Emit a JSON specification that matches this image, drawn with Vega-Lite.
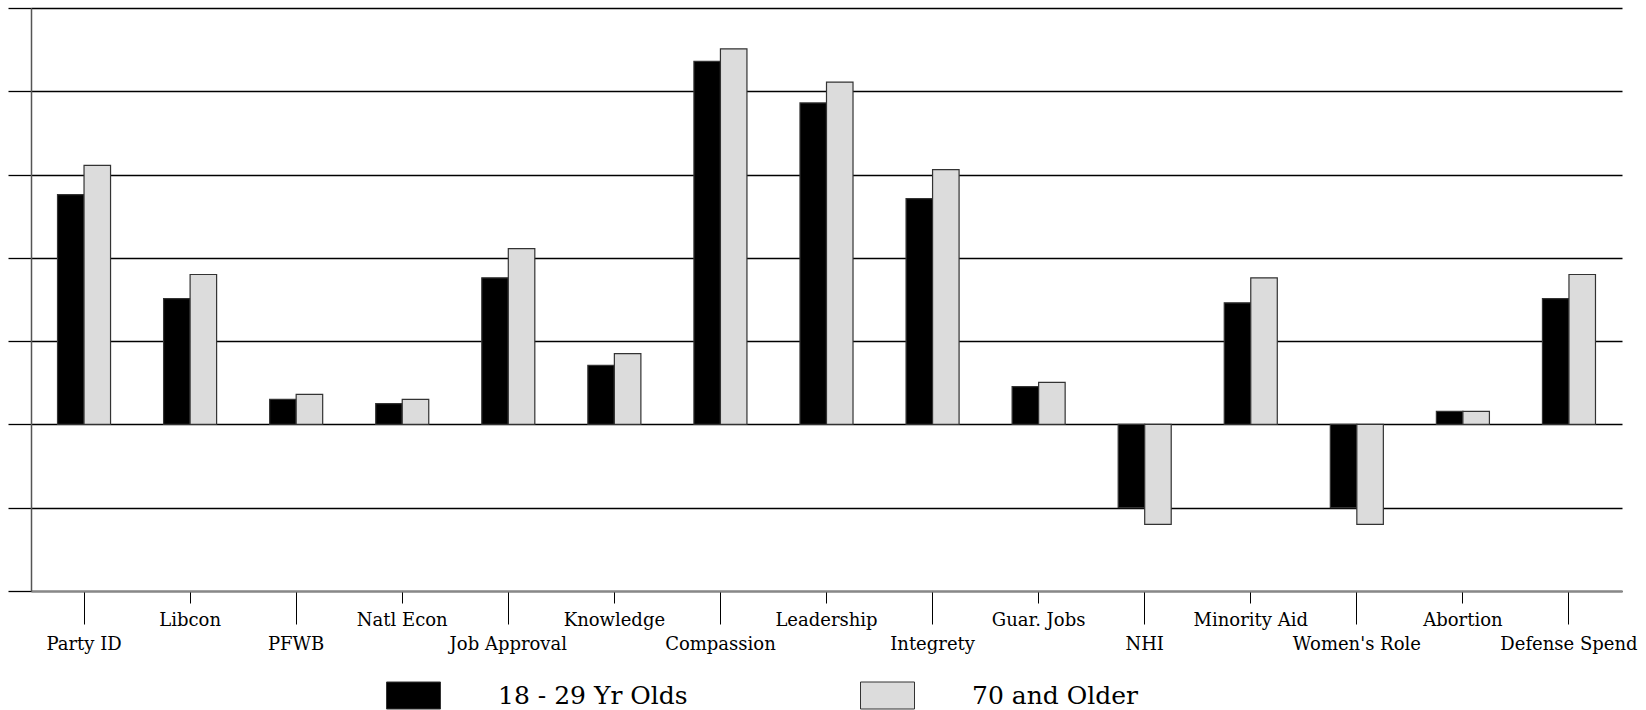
{
  "$schema": "https://vega.github.io/schema/vega-lite/v6.json",
  "autosize": "none",
  "width": 1591,
  "height": 583,
  "padding": {"left": 31, "top": 8, "right": 24, "bottom": 119},
  "background": "#ffffff",
  "config": {"view": {"stroke": null}},
  "data": {
    "values": [
      {"item": "Party ID", "group": "18 - 29 Yr Olds", "value": 2.76},
      {"item": "Party ID", "group": "70 and Older", "value": 3.11},
      {"item": "Libcon", "group": "18 - 29 Yr Olds", "value": 1.51},
      {"item": "Libcon", "group": "70 and Older", "value": 1.80},
      {"item": "PFWB", "group": "18 - 29 Yr Olds", "value": 0.30},
      {"item": "PFWB", "group": "70 and Older", "value": 0.36},
      {"item": "Natl Econ", "group": "18 - 29 Yr Olds", "value": 0.25},
      {"item": "Natl Econ", "group": "70 and Older", "value": 0.30},
      {"item": "Job Approval", "group": "18 - 29 Yr Olds", "value": 1.76},
      {"item": "Job Approval", "group": "70 and Older", "value": 2.11},
      {"item": "Knowledge", "group": "18 - 29 Yr Olds", "value": 0.71},
      {"item": "Knowledge", "group": "70 and Older", "value": 0.85},
      {"item": "Compassion", "group": "18 - 29 Yr Olds", "value": 4.36},
      {"item": "Compassion", "group": "70 and Older", "value": 4.51},
      {"item": "Leadership", "group": "18 - 29 Yr Olds", "value": 3.86},
      {"item": "Leadership", "group": "70 and Older", "value": 4.11},
      {"item": "Integrety", "group": "18 - 29 Yr Olds", "value": 2.71},
      {"item": "Integrety", "group": "70 and Older", "value": 3.06},
      {"item": "Guar. Jobs", "group": "18 - 29 Yr Olds", "value": 0.455},
      {"item": "Guar. Jobs", "group": "70 and Older", "value": 0.505},
      {"item": "NHI", "group": "18 - 29 Yr Olds", "value": -1.0},
      {"item": "NHI", "group": "70 and Older", "value": -1.2},
      {"item": "Minority Aid", "group": "18 - 29 Yr Olds", "value": 1.46},
      {"item": "Minority Aid", "group": "70 and Older", "value": 1.76},
      {"item": "Women's Role", "group": "18 - 29 Yr Olds", "value": -1.0},
      {"item": "Women's Role", "group": "70 and Older", "value": -1.2},
      {"item": "Abortion", "group": "18 - 29 Yr Olds", "value": 0.157},
      {"item": "Abortion", "group": "70 and Older", "value": 0.157},
      {"item": "Defense Spend", "group": "18 - 29 Yr Olds", "value": 1.51},
      {"item": "Defense Spend", "group": "70 and Older", "value": 1.80}
    ]
  },
  "mark": {"type": "bar", "stroke": "#333333", "strokeWidth": 1.2},
  "encoding": {
    "x": {
      "field": "item",
      "type": "nominal",
      "sort": null,
      "scale": {"paddingInner": 0.5, "paddingOuter": 0.25},
      "axis": {
        "title": null,
        "labelAngle": 0,
        "labelFont": "DejaVu Serif",
        "labelFontSize": 18,
        "labelColor": "#000000",
        "labelBaseline": "top",
        "labelOverlap": false,
        "labelLimit": 0,
        "labelPadding": {
          "condition": {"test": "indexof(['Party ID','PFWB','Job Approval','Compassion','Integrety','NHI',\"Women's Role\",'Defense Spend'], datum.value) >= 0", "value": 11},
          "value": 8
        },
        "tickSize": {
          "condition": {"test": "indexof(['Party ID','PFWB','Job Approval','Compassion','Integrety','NHI',\"Women's Role\",'Defense Spend'], datum.value) >= 0", "value": 33},
          "value": 12
        },
        "tickColor": "#000000",
        "tickWidth": 1,
        "domainColor": "#888888",
        "domainWidth": 2
      }
    },
    "xOffset": {
      "field": "group",
      "type": "nominal",
      "scale": {"domain": ["18 - 29 Yr Olds", "70 and Older"]}
    },
    "y": {
      "field": "value",
      "type": "quantitative",
      "scale": {"domain": [-2, 5], "nice": false, "zero": true},
      "axis": {
        "title": null,
        "labels": false,
        "values": [-2, -1, 0, 1, 2, 3, 4, 5],
        "tickSize": 23,
        "tickColor": "#000000",
        "tickWidth": 1.3,
        "grid": true,
        "gridColor": "#000000",
        "gridWidth": 1.3,
        "gridOpacity": 1,
        "domainColor": "#555555",
        "domainWidth": 1.5
      }
    },
    "color": {
      "field": "group",
      "type": "nominal",
      "scale": {"domain": ["18 - 29 Yr Olds", "70 and Older"], "range": ["#000000", "#dcdcdc"]},
      "legend": {
        "orient": "none",
        "legendX": 355,
        "legendY": 660,
        "direction": "horizontal",
        "title": null,
        "symbolType": "M-1,-0.5L1,-0.5L1,0.5L-1,0.5Z",
        "symbolSize": 2916,
        "symbolStrokeColor": "#333333",
        "symbolStrokeWidth": 1,
        "symbolOpacity": 1,
        "labelFont": "DejaVu Serif",
        "labelFontSize": 25,
        "labelColor": "#000000",
        "labelOffset": 57,
        "columnPadding": 170,
        "labelLimit": 0
      }
    }
  }
}
